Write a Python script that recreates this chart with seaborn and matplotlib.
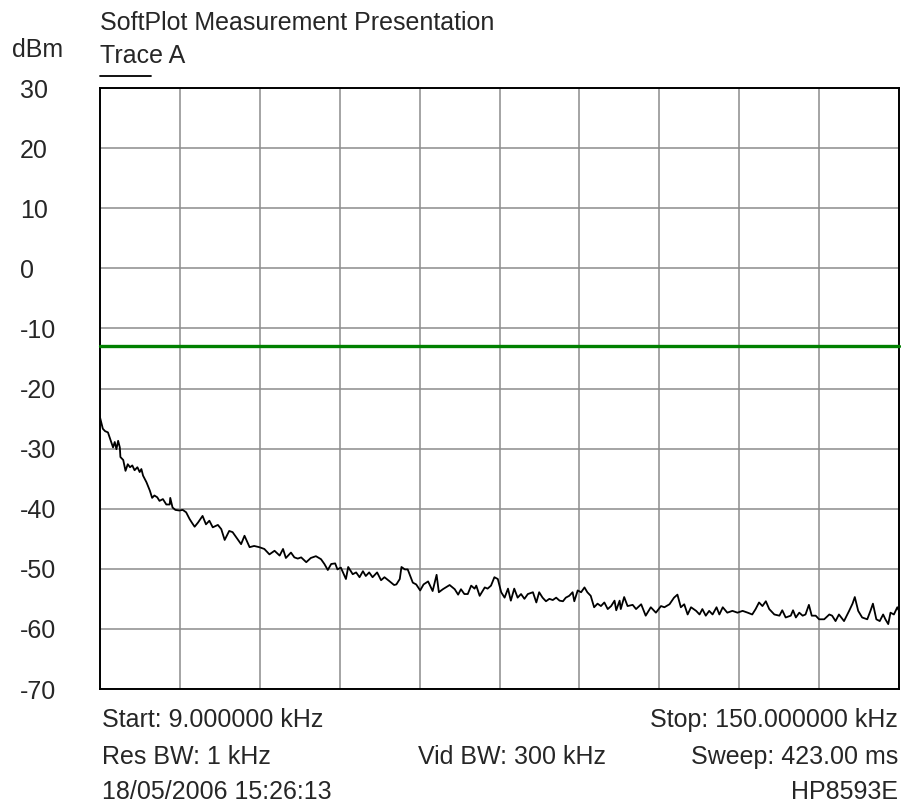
import numpy as np
import pandas as pd
import matplotlib
matplotlib.use("Agg")
import matplotlib.pyplot as plt
from matplotlib.lines import Line2D
import seaborn as sns

# ---- data ----
freq_khz = [
    9.0, 9.5, 9.9, 10.4, 10.9, 11.3, 11.6, 11.9, 12.2, 12.5, 12.6, 13.1, 13.5, 13.9,
    14.3, 14.7, 15.1, 15.6, 16.0, 16.3, 16.6, 17.2, 17.8, 18.2, 18.6, 19.1, 19.5,
    20.1, 20.7, 21.3, 21.4, 21.8, 22.3, 23.0, 23.6, 24.2, 24.8, 25.2, 25.7, 26.3,
    27.1, 27.7, 28.3, 28.9, 29.8, 30.4, 31.0, 31.8, 32.4, 33.3, 33.9, 34.5, 35.4,
    36.2, 37.1, 38.0, 38.9, 39.8, 40.7, 41.3, 41.8, 42.7, 43.3, 43.9, 44.5, 45.4,
    46.2, 47.1, 48.0, 48.6, 49.2, 49.8, 50.5, 50.9, 51.5, 52.4, 52.8, 53.6, 54.2,
    54.8, 55.4, 55.9, 56.5, 57.1, 57.9, 58.6, 59.2, 60.0, 60.9, 61.3, 61.9, 62.2,
    62.8, 63.3, 64.2, 64.8, 65.5, 66.1, 66.9, 67.7, 68.4, 68.8, 69.5, 70.7, 71.6,
    72.2, 72.7, 73.3, 73.9, 74.5, 75.1, 75.4, 76.0, 76.9, 77.4, 78.0, 78.6, 79.2,
    79.8, 80.4, 81.0, 81.5, 82.1, 82.7, 83.3, 83.9, 84.5, 85.4, 86.0, 86.5, 87.1,
    87.7, 88.3, 88.9, 89.5, 90.1, 90.7, 91.2, 91.8, 92.4, 92.7, 93.3, 93.9, 94.5,
    95.0, 95.6, 96.2, 96.8, 97.4, 98.0, 98.6, 99.2, 99.8, 100.1, 100.7, 100.9,
    101.5, 102.1, 103.0, 103.6, 104.5, 105.3, 106.2, 107.1, 108.0, 108.6, 109.5,
    110.3, 110.9, 111.5, 112.1, 112.7, 113.3, 114.2, 114.8, 115.3, 115.9, 116.5,
    117.1, 117.8, 118.3, 118.9, 119.7, 120.6, 121.5, 122.4, 123.3, 124.1, 124.7,
    125.3, 125.9, 126.5, 127.1, 128.0, 128.9, 129.4, 130.0, 130.9, 131.3, 131.8,
    132.4, 133.0, 133.5, 134.1, 134.6, 135.3, 135.9, 136.8, 137.7, 138.2, 138.8,
    139.4, 140.3, 141.2, 141.8, 142.2, 142.8, 143.5, 144.4, 145.0, 145.4, 146.0,
    146.6, 147.2, 147.6, 148.1, 148.5, 149.1, 149.7, 150.0,
]
level_dbm = [
    -24.8, -26.7, -27.1, -27.3, -28.7, -29.8, -28.9, -30.1, -28.7, -29.8, -31.4, -31.9, -33.7, -32.6,
    -33.1, -32.8, -33.6, -33.1, -33.9, -33.4, -34.5, -35.6, -37.0, -38.2, -37.8, -38.1, -38.7,
    -38.4, -39.3, -39.3, -38.2, -39.8, -40.2, -40.3, -40.2, -40.6, -41.7, -42.3, -43.0, -42.3,
    -41.2, -42.6, -42.0, -43.1, -42.7, -43.4, -45.2, -43.7, -43.9, -45.1, -45.9, -44.5, -46.4,
    -46.2, -46.4, -46.7, -47.6, -47.0, -47.8, -46.7, -48.2, -47.3, -48.1, -48.3, -48.1, -48.9,
    -48.2, -47.9, -48.4, -49.2, -50.2, -49.2, -49.1, -50.1, -49.8, -51.7, -49.7, -50.9, -50.6,
    -51.4, -50.4, -51.2, -50.6, -51.4, -50.6, -51.9, -51.4, -52.0, -52.7, -52.6, -51.7, -49.7,
    -50.1, -50.1, -52.3, -52.6, -53.6, -52.6, -52.1, -53.7, -51.0, -53.9, -53.4, -52.7, -53.4,
    -54.3, -53.4, -54.2, -54.2, -52.8, -53.3, -52.8, -54.5, -53.1, -53.3, -52.8, -51.4, -51.7,
    -53.9, -54.8, -53.3, -55.3, -53.3, -54.8, -54.2, -55.0, -54.2, -53.9, -55.6, -53.9, -54.8,
    -55.4, -55.0, -55.2, -54.8, -55.3, -55.4, -54.8, -54.5, -53.9, -55.4, -53.6, -53.9, -53.1,
    -53.9, -54.5, -56.4, -55.8, -56.2, -55.6, -56.7, -56.2, -55.3, -56.9, -55.3, -56.7,
    -54.7, -56.2, -56.0, -56.7, -55.9, -57.8, -56.4, -57.3, -56.2, -56.4, -55.9,
    -54.8, -54.3, -56.4, -55.9, -57.6, -56.4, -57.0, -57.6, -56.7, -57.8, -57.0,
    -57.6, -56.4, -57.6, -56.4, -57.3, -57.0, -57.3, -57.0, -57.3, -57.6, -56.7,
    -55.6, -56.2, -55.4, -56.7, -57.6, -57.8, -56.9, -58.1, -57.8, -56.9, -58.1,
    -57.3, -57.8, -57.6, -56.0, -57.8, -57.8, -58.4, -58.4, -57.6, -57.8, -58.7,
    -57.6, -58.7, -57.0, -55.8, -54.7, -57.0, -58.1, -58.4, -56.9, -55.8, -58.4,
    -58.7, -57.6, -58.4, -59.2, -57.3, -57.6, -56.4, -57.0,
]
limit_dbm = -13.0
start_khz = 9.0
stop_khz = 150.0
y_ticks = [30, 20, 10, 0, -10, -20, -30, -40, -50, -60, -70]
y_tick_labels = ["30", "20", "10", "0", "-10", "-20", "-30", "-40", "-50", "-60", "-70"]

title_text = "SoftPlot Measurement Presentation"
unit_text = "dBm"
trace_text = "Trace A"
start_text = "Start: 9.000000 kHz"
stop_text = "Stop: 150.000000 kHz"
res_text = "Res BW: 1 kHz"
vid_text = "Vid BW: 300 kHz"
sweep_text = "Sweep: 423.00 ms"
date_text = "18/05/2006 15:26:13"
model_text = "HP8593E"

df = pd.DataFrame({"freq": freq_khz, "level": level_dbm})

# ---- style ----
sns.set_style("white")
plt.rcParams["font.family"] = ["Liberation Sans", "DejaVu Sans"]
FS = 18

W, H = 901, 805
fig = plt.figure(figsize=(W / 100, H / 100), dpi=100)
fig.patch.set_facecolor("white")

L, R, T, B = 100, 899, 88, 689
ax = fig.add_axes([L / W, 1 - B / H, (R - L) / W, (B - T) / H])

sns.lineplot(data=df, x="freq", y="level", color="black", linewidth=1.3, ax=ax,
             estimator=None, sort=False, zorder=3)
ax.axhline(limit_dbm, color="#008000", linewidth=2.4, zorder=4, clip_on=False)

ax.set_xlim(start_khz, stop_khz)
ax.set_ylim(-70, 30)
ax.set_xticks(np.linspace(start_khz, stop_khz, 11))
ax.set_xticklabels([])
ax.set_yticks(y_ticks)
ax.set_yticklabels(y_tick_labels, fontsize=FS, ha="left")
ax.tick_params(axis="y", length=0, pad=80 * 0.72)
ax.tick_params(axis="x", length=0)
ax.set_xlabel("")
ax.set_ylabel("")
ax.grid(True, color="#8c8c8c", linewidth=1.1)
ax.set_axisbelow(True)
for s in ax.spines.values():
    s.set_color("black")
    s.set_linewidth(1.4)
    s.set_visible(True)

def fy(y):
    return 1 - y / H

def fx(x):
    return x / W

fig.text(fx(100), fy(30), title_text, fontsize=FS, va="baseline", ha="left")
fig.text(fx(12), fy(57), unit_text, fontsize=FS, va="baseline", ha="left")
fig.text(fx(100), fy(63), trace_text, fontsize=FS, va="baseline", ha="left")
fig.add_artist(Line2D([fx(100), fx(151)], [fy(76), fy(76)], color="black", linewidth=1.3))

fig.text(fx(102), fy(727), start_text, fontsize=FS, va="baseline", ha="left")
fig.text(fx(898), fy(727), stop_text, fontsize=FS, va="baseline", ha="right")
fig.text(fx(102), fy(764), res_text, fontsize=FS, va="baseline", ha="left")
fig.text(fx(512), fy(764), vid_text, fontsize=FS, va="baseline", ha="center")
fig.text(fx(898), fy(764), sweep_text, fontsize=FS, va="baseline", ha="right")
fig.text(fx(102), fy(799), date_text, fontsize=FS, va="baseline", ha="left")
fig.text(fx(898), fy(799), model_text, fontsize=FS, va="baseline", ha="right")

fig.savefig("out.png", dpi=100, facecolor="white")
